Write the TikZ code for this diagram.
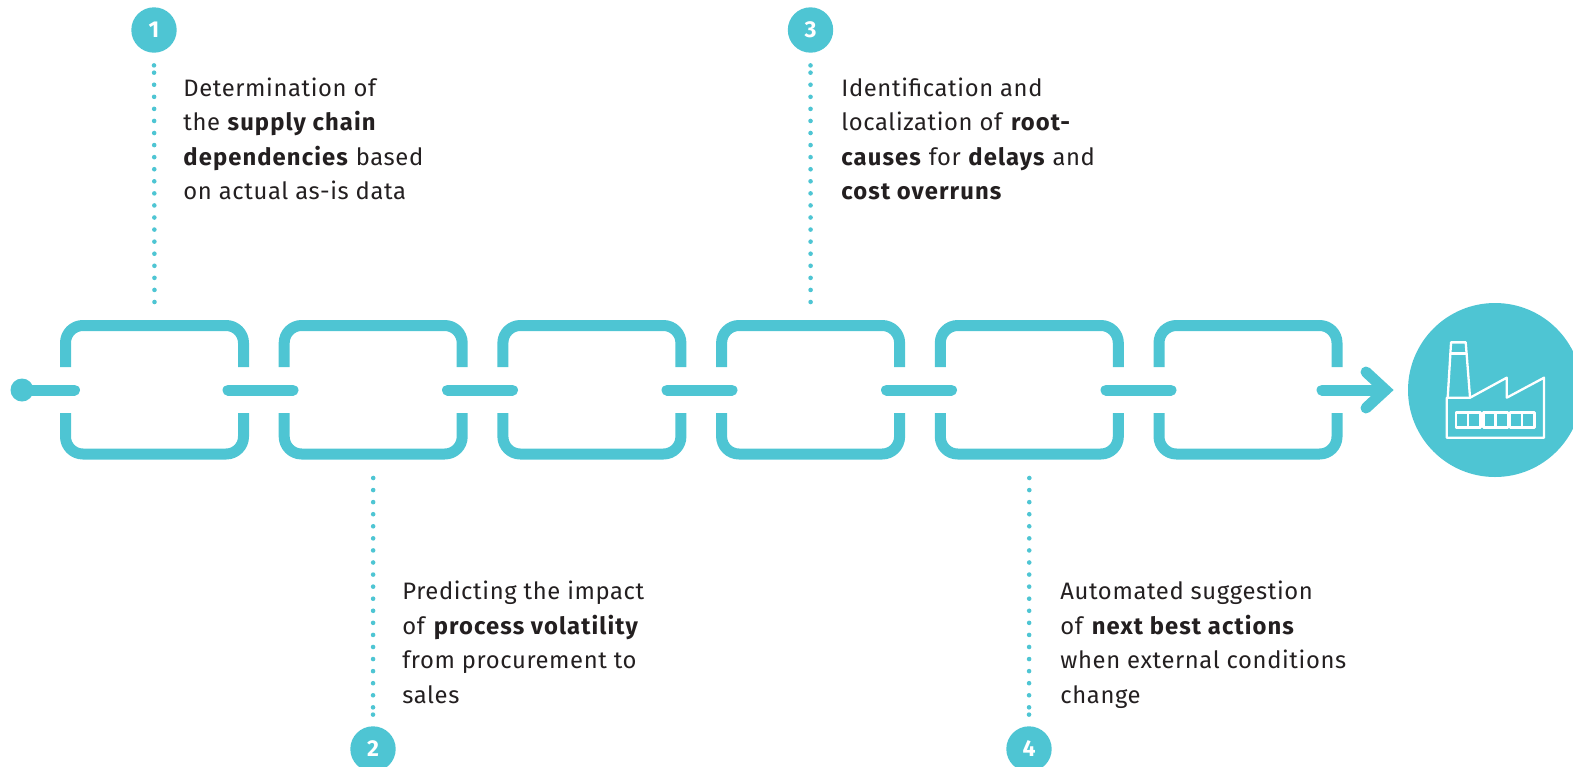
\documentclass[tikz,border=0pt]{standalone}
\usepackage{fontspec}
\setmainfont{Fira Sans}[LetterSpace=2.6,BoldFeatures={LetterSpace=4.6}]
\definecolor{teal}{HTML}{4EC5D3}
\definecolor{ink}{HTML}{231F20}
\tikzset{
  x=0.5pt,y=-0.5pt,
  numdot/.style={circle,fill=teal,inner sep=0pt,minimum size=22.7pt,text=white,font=\fontsize{11.5}{12}\selectfont\bfseries},
  dots/.style={teal,line width=2.3pt,line cap=round,dash pattern=on 0pt off 6.035pt},
  enddot/.style={fill=teal},
  linkline/.style={teal,line width=5.5pt,line join=round,rounded corners=8.7pt},
  barline/.style={teal,line width=5.5pt,line cap=round},
  label/.style={anchor=base west,inner sep=0pt,align=left,text=ink,font=\fontsize{11.9}{17.25}\selectfont},
  factory/.style={white,line width=1.15pt,line join=round,line cap=round}
}
\begin{document}
\begin{tikzpicture}
\useasboundingbox (0,0) rectangle (1573,766);
% chain links
\foreach \i [evaluate=\i as \xa using {65.5+(\i-1)*218.7},
             evaluate=\i as \xb using {243.5+(\i-1)*218.7}] in {1,...,6}{
  \draw[linkline] (\xa,367) -- (\xa,325.5) -- (\xb,325.5) -- (\xb,367);
  \draw[linkline] (\xa,413) -- (\xa,454) -- (\xb,454) -- (\xb,413);
  \coordinate (top\i) at ({(\xa+\xb)/2},302);
  \coordinate (bot\i) at ({(\xa+\xb)/2},478);
}
% bars
\node[circle,fill=teal,inner sep=0pt,minimum size=11.5pt] (start) at (22,390) {};
\coordinate (b1e) at (74.5,390);
\draw[barline] (start.center) -- (b1e);
\foreach \i [evaluate=\i as \xa using {228+(\i-1)*219.5}] in {1,...,5}{
  \coordinate (ba\i) at (\xa,390);
  \coordinate (bb\i) at (\xa+65,390);
  \draw[barline] (ba\i) -- (bb\i);
}
% factory circle
\node[circle,fill=teal,inner sep=0pt,minimum size=87pt] (plant) at (1495,390) {};
\coordinate (arrowstart) at (1322,390);
\coordinate (arrowtip) at (1385,390);
\draw[barline] (arrowstart) -- (arrowtip);
\draw[teal,line width=5.5pt,line cap=round,miter limit=10] (1366,372) -- (1385.5,390) -- (1366,408);
% factory icon
\begin{scope}[shift={(1290,290)},x=0.1667pt,y=-0.1667pt]
  \draw[factory] (470,323) -- (470,443) -- (762,443) -- (762,263) -- (650,323) -- (650,263) -- (540,323) -- cycle;
  \draw[factory] (473,323) -- (483,157) -- (527,157) -- (540,323);
  \draw[factory] (481,190) -- (529,190);
  \foreach \xx in {498,580,660}{
    \draw[factory] (\xx,367) rectangle (\xx+73,412);
    \draw[factory] (\xx+36.5,367) -- (\xx+36.5,412);
  }
\end{scope}
% numbered markers
\node[numdot] (n1) at (154,30) {1};
\node[numdot] (n3) at (810.5,30) {3};
\node[numdot] (n2) at (373,749) {2};
\node[numdot] (n4) at (1029,749) {4};
\draw[dots,shorten >=6pt] (top1) -- (n1);
\draw[dots,shorten >=6pt] (top4) -- (n3);
\draw[dots,shorten >=5.6pt] (bot2) -- (n2);
\draw[dots,shorten >=5.6pt] (bot5) -- (n4);
\fill[enddot] ([yshift=-6.15pt]n1.south) circle[radius=1.15pt];
\fill[enddot] ([yshift=-6.15pt]n3.south) circle[radius=1.15pt];
\fill[enddot] ([yshift=5.65pt]n2.north) circle[radius=1.15pt];
\fill[enddot] ([yshift=5.65pt]n4.north) circle[radius=1.15pt];
% labels
\node[label] (t1) at (183,199.5) {Determination of\\the \textbf{supply chain}\\\textbf{dependencies} based\\on actual as-is data};
\node[label] (t3) at (841,199.5) {Identification and\\localization of \textbf{root-}\\\textbf{causes} for \textbf{delays} and\\\textbf{cost overruns}};
\node[label] (t2) at (402,703) {Predicting the impact\\of \textbf{process volatility}\\from procurement to\\sales};
\node[label] (t4) at (1060,703) {Automated suggestion\\of \textbf{next best actions}\\when external conditions\\change};
\end{tikzpicture}
\end{document}
